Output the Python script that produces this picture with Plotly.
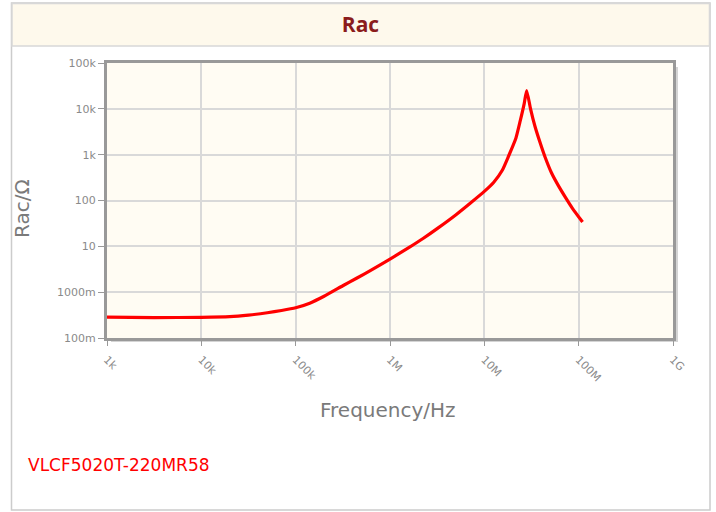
import plotly.graph_objects as go

# ---- data ----
freq_hz = [1.0e3, 3.16e3, 1.0e4, 2.0e4, 3.16e4, 5.0e4, 7.08e4, 1.0e5, 1.41e5, 2.0e5,
           3.16e5, 4.47e5, 6.31e5, 1.0e6, 1.58e6, 2.24e6, 3.16e6, 5.01e6, 7.08e6, 1.0e7,
           1.26e7, 1.55e7, 1.80e7, 2.16e7, 2.39e7, 2.65e7, 2.81e7, 3.09e7, 3.44e7, 3.89e7,
           4.40e7, 5.16e7, 6.07e7, 7.24e7, 8.59e7, 1.10e8]
rac_ohm = [0.285, 0.279, 0.282, 0.292, 0.316, 0.355, 0.398, 0.457, 0.575, 0.813,
           1.38, 2.04, 3.02, 5.25, 9.33, 14.8, 24.3, 49.0, 87.1, 158,
           251, 457, 912, 2290, 5250, 13200, 25100, 10000, 4170, 1860,
           891, 398, 214, 117, 67.6, 33.9]

x_tick_vals = [1e3, 1e4, 1e5, 1e6, 1e7, 1e8, 1e9]
x_tick_text = ["1k", "10k", "100k", "1M", "10M", "100M", "1G"]
y_tick_vals = [0.1, 1, 10, 100, 1e3, 1e4, 1e5]
y_tick_text = ["100m", "1000m", "10", "100", "1k", "10k", "100k"]

title_text = "Rac"
x_title = "Frequency/Hz"
y_title = "Rac/Ω"
part_name = "VLCF5020T-220MR58"

# ---- layout geometry (pixels) ----
W, H = 716, 512
PL, PR, PT, PB = 107, 673, 63, 338


def px(x):
    return (x - PL) / (PR - PL)


def py(y):
    return (PB - y) / (PB - PT)


fig = go.Figure()
fig.add_trace(go.Scatter(
    x=freq_hz, y=rac_ohm, mode="lines",
    line=dict(color="#ff0000", width=3.2, shape="spline", smoothing=0.5),
    hoverinfo="skip", showlegend=False,
))

axis_font = dict(family="DejaVu Sans", size=11, color="#8a8a8a")
fig.update_xaxes(
    type="log", range=[3, 9], tickvals=x_tick_vals, ticktext=x_tick_text,
    tickangle=45, tickfont=axis_font, ticks="outside", ticklen=5, tickcolor="#999999",
    showgrid=True, gridcolor="#d9d9d9", gridwidth=1.5,
    showline=True, linecolor="#999999", linewidth=3, mirror=True,
    ticklabelstandoff=3,
    zeroline=False,
)
fig.update_yaxes(
    type="log", range=[-1, 5], tickvals=y_tick_vals, ticktext=y_tick_text,
    tickfont=axis_font, ticks="outside", ticklen=6, tickcolor="#999999",
    showgrid=True, gridcolor="#d9d9d9", gridwidth=1.5,
    showline=True, linecolor="#999999", linewidth=3, mirror=True,
    zeroline=False,
)

shapes = [
    # outer box
    dict(type="rect", xref="paper", yref="paper", x0=px(11.5), x1=px(710), y0=py(3), y1=py(510),
         line=dict(color="#cccccc", width=1.5), fillcolor="rgba(0,0,0,0)", layer="below"),
    # header band
    dict(type="rect", xref="paper", yref="paper", x0=px(12), x1=px(709.5), y0=py(3.5), y1=py(46),
         line=dict(color="#d8d8d8", width=1.5), fillcolor="#fef9ec", layer="below"),
    # plot frame shadow (right and bottom strips)
    dict(type="rect", xref="paper", yref="paper", x0=px(674.5), x1=px(678), y0=py(67), y1=py(342),
         line=dict(width=0), fillcolor="#d4d4d4", layer="below"),
    dict(type="rect", xref="paper", yref="paper", x0=px(111), x1=px(678), y0=py(339.5), y1=py(342),
         line=dict(width=0), fillcolor="#d4d4d4", layer="below"),
]

title_font = dict(family="DejaVu Sans", size=20, color="#7a7a7a")
fig.update_layout(
    width=W, height=H,
    margin=dict(l=PL, r=W - PR, t=PT, b=H - PB),
    paper_bgcolor="#ffffff", plot_bgcolor="#fffcf3",
    title=dict(text="<b>" + title_text + "</b>", x=0.5 * (12 + 709) / W, xanchor="center",
               y=1 - 25 / H, yanchor="middle", yref="container", xref="container",
               font=dict(family="Open Sans", size=21, color="#8b1c1c")),
    shapes=shapes,
    annotations=[
        dict(text=part_name, xref="paper", yref="paper", x=px(26), y=py(465),
             xanchor="left", yanchor="middle", showarrow=False,
             font=dict(family="DejaVu Sans", size=17, color="#ff0000")),
        dict(text=x_title, xref="paper", yref="paper", x=px(388), y=py(410),
             xanchor="center", yanchor="middle", showarrow=False, font=title_font),
        dict(text=y_title, xref="paper", yref="paper", x=px(22), y=py(209),
             xanchor="center", yanchor="middle", showarrow=False, textangle=-90,
             font=title_font),
    ],
    showlegend=False,
)

fig.write_html("out.html", config={"displayModeBar": False},
               post_script="document.body.style.margin='0';")
